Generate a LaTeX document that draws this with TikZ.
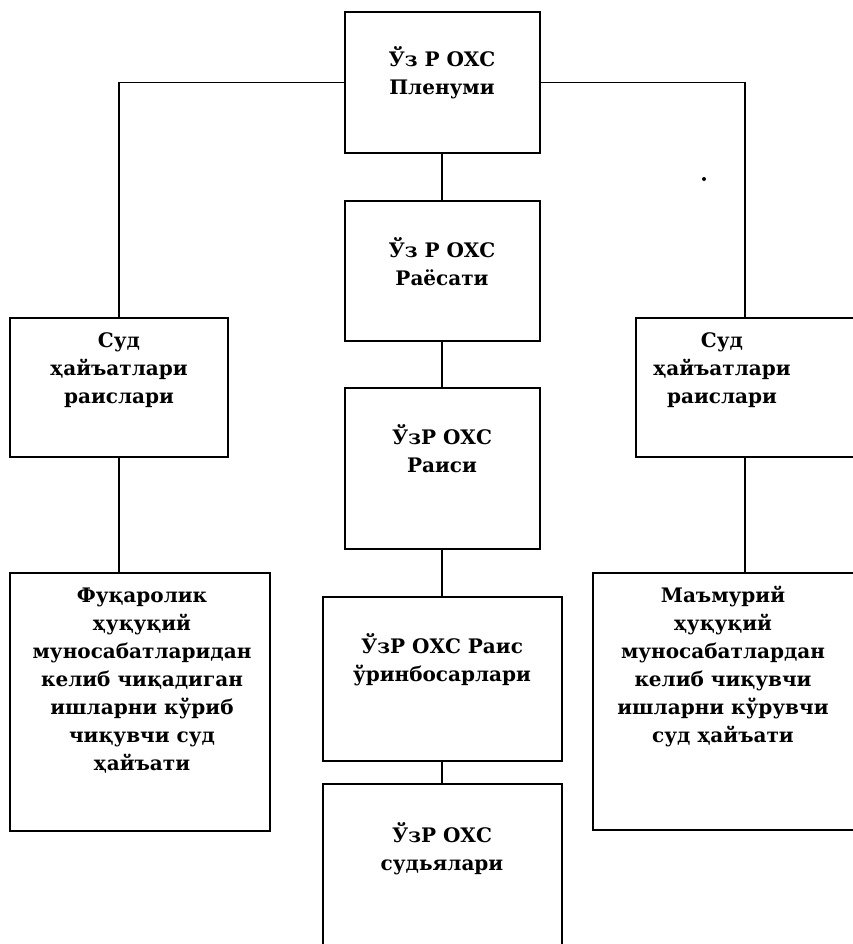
\documentclass[tikz,border=0pt]{standalone}
\usepackage{fontspec}
\setmainfont{DejaVu Serif}

\begin{document}
\begin{tikzpicture}[x=1pt,y=-1pt,
  box/.style={draw,line width=2pt,inner sep=0pt,outer sep=0pt},
  txt/.style={font=\bfseries\fontsize{20}{28}\selectfont,align=center,anchor=base,inner sep=0pt},
  verb/.style={line width=1.6pt}]
  \path[use as bounding box,fill=white] (0,0) rectangle (852,944);
  % Kaesten Mitte
  \node[box,minimum width=195pt,minimum height=141pt] (plenum) at (442,82.5) {};
  \node[box,minimum width=195pt,minimum height=140pt] (rayosat) at (442,271) {};
  \node[box,minimum width=195pt,minimum height=161pt] (rais) at (442,468) {};
  \node[box,minimum width=239pt,minimum height=164pt] (urinbosar) at (442,679) {};
  \node[box,minimum width=239pt,minimum height=180pt] (sudya) at (442,874) {};
  % Kaesten links und rechts
  \node[box,minimum width=218pt,minimum height=139pt] (hayatL) at (119,387.5) {};
  \node[box,minimum width=218pt,minimum height=139pt] (hayatR) at (745,387.5) {};
  \node[box,minimum width=260pt,minimum height=258pt] (ishL) at (140,702) {};
  \node[box,minimum width=262pt,minimum height=257pt] (ishR) at (724,701.5) {};
  % Texte (Grundlinie der letzten Zeile)
  \node[txt] (plenumT) at ([yshift=-83pt]plenum.north) {Ўз Р ОХС\\Пленуми};
  \node[txt] (rayosatT) at ([yshift=-84pt]rayosat.north) {Ўз Р ОХС\\Раёсати};
  \node[txt] (raisT) at ([yshift=-85pt]rais.north) {ЎзР ОХС\\Раиси};
  \node[txt] (urinbosarT) at ([yshift=-84pt]urinbosar.north) {ЎзР ОХС Раис\\ўринбосарлари};
  \node[txt] (sudyaT) at ([yshift=-86pt]sudya.north) {ЎзР ОХС\\судьялари};
  \node[txt] (hayatLT) at ([yshift=-85pt]hayatL.north) {Суд\\ҳайъатлари\\раислари};
  \node[txt] (hayatRT) at ([xshift=-23pt,yshift=-85pt]hayatR.north) {Суд\\ҳайъатлари\\раислари};
  \node[txt] (ishLT) at ([xshift=2pt,yshift=-197pt]ishL.north) {Фуқаролик\\ҳуқуқий\\муносабатларидан\\келиб чиқадиган\\ишларни кўриб\\чиқувчи суд\\ҳайъати};
  \node[txt] (ishRT) at ([xshift=-1pt,yshift=-169pt]ishR.north) {Маъмурий\\ҳуқуқий\\муносабатлардан\\келиб чиқувчи\\ишларни кўрувчи\\суд ҳайъати};
  % Verbindungen
  \draw[verb] (plenum.west) -| (hayatL.north);
  \draw[verb] (plenum.east) -| (hayatR.north);
  \draw[verb] (plenum) -- (rayosat);
  \draw[verb] (rayosat) -- (rais);
  \draw[verb] (rais) -- (urinbosar);
  \draw[verb] (urinbosar) -- (sudya);
  \draw[verb] (hayatL.south) -- (hayatL.south |- ishL.north);
  \draw[verb] (hayatR.south) -- (hayatR.south |- ishR.north);
  % Punkt
  \fill (704,179) circle (2pt);
\end{tikzpicture}
\end{document}
